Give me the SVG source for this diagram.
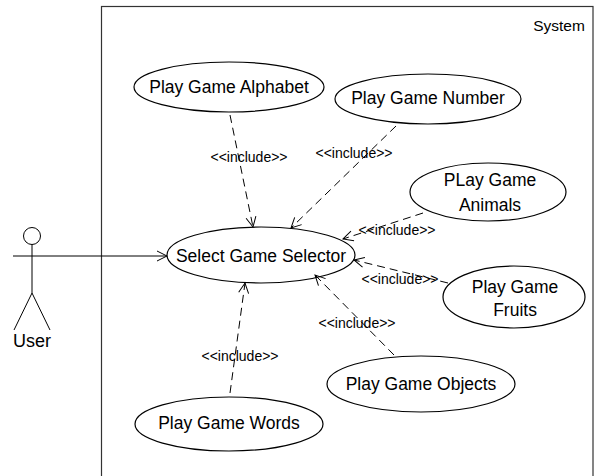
<svg xmlns="http://www.w3.org/2000/svg" width="603" height="476" viewBox="0 0 603 476">
<style>
.uc{fill:#fff;stroke:#000;stroke-width:1.2}
.t{font-family:"Liberation Sans",Arial,sans-serif;font-size:17.5px;fill:#000;text-anchor:middle;dominant-baseline:central}
.inc{font-family:"Liberation Sans",Arial,sans-serif;font-size:14px;fill:#000;text-anchor:middle;dominant-baseline:central}
.dash{fill:none;stroke:#000;stroke-width:1;stroke-dasharray:8,5}
.solid{fill:none;stroke:#000;stroke-width:1}
</style>
<defs>
<marker id="open" markerUnits="userSpaceOnUse" markerWidth="12" markerHeight="12" refX="11" refY="6" orient="auto">
<path d="M1,1 L11,6 L1,11" fill="none" stroke="#000" stroke-width="1"/>
</marker>
</defs>
<rect width="603" height="476" fill="#fff"/>
<g id="system">
<rect x="101.5" y="6.5" width="491.5" height="480" fill="none" stroke="#333" stroke-width="1.2"/>
<text x="559" y="25" class="t" style="font-size:15.5px">System</text>
</g>
<g id="actor-user" fill="none" stroke="#000" stroke-width="1">
<circle cx="32" cy="236" r="8.5"/>
<line x1="32" y1="244.5" x2="32" y2="293"/>
<line x1="13" y1="256" x2="51" y2="256"/>
<line x1="32" y1="293" x2="14" y2="330"/>
<line x1="32" y1="293" x2="50" y2="330"/>
<text x="32" y="341" class="t" stroke="none" style="font-size:18px">User</text>
</g>
<g id="uc-select">
<ellipse cx="261" cy="255" rx="94" ry="28" class="uc"/>
<text x="261" y="256" class="t">Select Game Selector</text>
</g>
<g id="uc-alphabet">
<ellipse cx="229" cy="87" rx="95" ry="25" class="uc"/>
<text x="229" y="87" class="t">Play Game Alphabet</text>
</g>
<g id="uc-number">
<ellipse cx="428" cy="99" rx="93" ry="25" class="uc"/>
<text x="428" y="98" class="t">Play Game Number</text>
</g>
<g id="uc-animals">
<ellipse cx="488" cy="192" rx="78" ry="29" class="uc"/>
<text x="490" y="180" class="t">PLay Game</text>
<text x="490" y="205" class="t">Animals</text>
</g>
<g id="uc-fruits">
<ellipse cx="514" cy="297" rx="71" ry="31" class="uc"/>
<text x="515" y="287" class="t">Play Game</text>
<text x="515" y="310" class="t">Fruits</text>
</g>
<g id="uc-objects">
<ellipse cx="421" cy="384" rx="94" ry="28" class="uc"/>
<text x="421" y="384" class="t">Play Game Objects</text>
</g>
<g id="uc-words">
<ellipse cx="229" cy="424" rx="94" ry="27" class="uc"/>
<text x="229" y="423" class="t">Play Game Words</text>
</g>
<g id="connectors">
<line x1="51" y1="256" x2="167" y2="256" class="solid" marker-end="url(#open)"/>
<line x1="230" y1="115" x2="253" y2="227" class="dash" marker-end="url(#open)"/>
<line x1="396" y1="126" x2="291" y2="228" class="dash" marker-end="url(#open)"/>
<line x1="423" y1="213" x2="343" y2="239" class="dash" marker-end="url(#open)"/>
<line x1="448" y1="283" x2="354" y2="260" class="dash" marker-end="url(#open)"/>
<line x1="394" y1="355" x2="315" y2="275" class="dash" marker-end="url(#open)"/>
<line x1="230" y1="393" x2="245" y2="283" class="dash" marker-end="url(#open)"/>
<text x="249" y="157" class="inc">&lt;&lt;include&gt;&gt;</text>
<text x="354" y="153" class="inc">&lt;&lt;include&gt;&gt;</text>
<text x="397" y="230" class="inc">&lt;&lt;include&gt;&gt;</text>
<text x="400" y="279" class="inc">&lt;&lt;include&gt;&gt;</text>
<text x="357" y="323" class="inc">&lt;&lt;include&gt;&gt;</text>
<text x="240" y="356" class="inc">&lt;&lt;include&gt;&gt;</text>
</g>
</svg>
